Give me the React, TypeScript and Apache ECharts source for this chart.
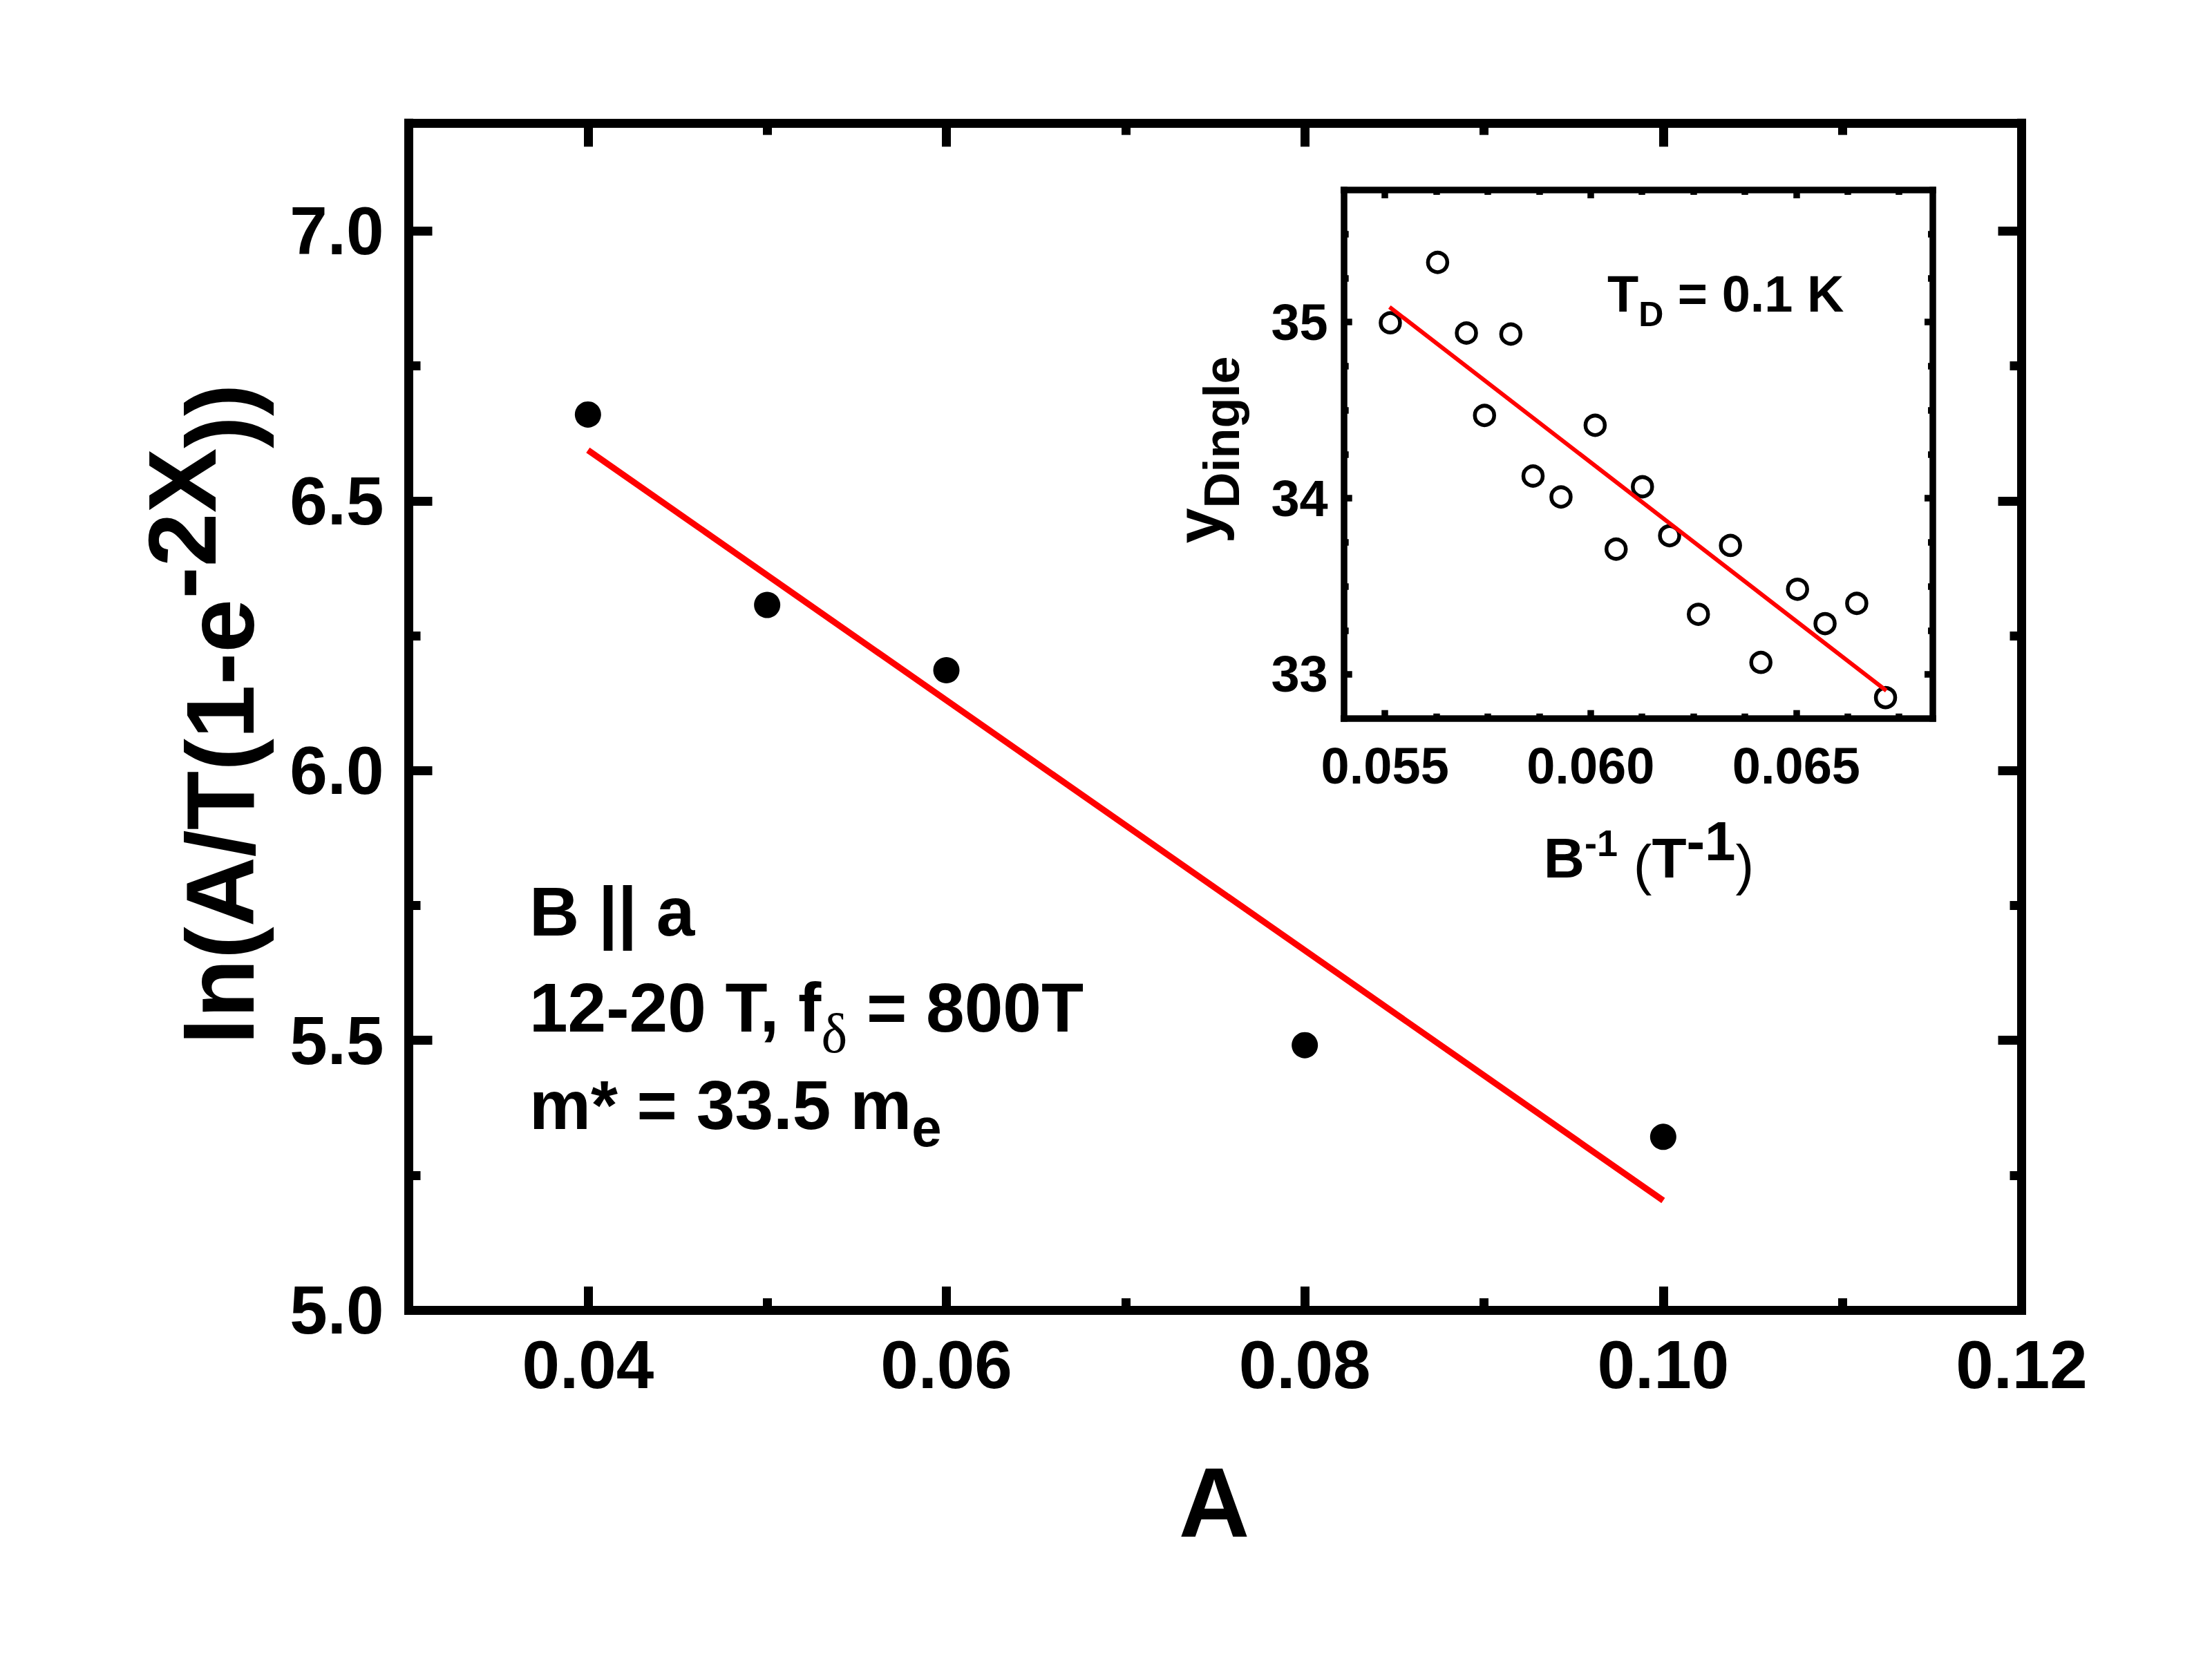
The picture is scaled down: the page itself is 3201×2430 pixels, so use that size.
import React, { useEffect, useRef } from 'react';
import * as echarts from 'echarts';

// ---------- data ----------
const mainX = [0.04, 0.05, 0.06, 0.08, 0.10];
const mainY = [6.660, 6.307, 6.186, 5.491, 5.321];
const mainFitX = [0.04, 0.10];
const mainFitY = [6.594, 5.203];

const insetX = [0.05513, 0.05628, 0.05698, 0.05806, 0.05742, 0.06011, 0.05860, 0.05928, 0.06126,
  0.06062, 0.06192, 0.06340, 0.06262, 0.06503, 0.06414, 0.06570, 0.06647, 0.06717];
const insetY = [34.996, 35.339, 34.938, 34.932, 34.470, 34.414, 34.126, 34.007, 34.065,
  33.711, 33.787, 33.732, 33.341, 33.483, 33.068, 33.288, 33.403, 32.868];
const insetFitX = [0.05511, 0.06719];
const insetFitY = [35.086, 32.907];

const mainXTicks = [0.04, 0.06, 0.08, 0.10, 0.12];
const mainXMinor = [0.05, 0.07, 0.09, 0.11];
const mainYTicks = [5.0, 5.5, 6.0, 6.5, 7.0];
const mainYMinor = [5.25, 5.75, 6.25, 6.75];
const insetXTicks = [0.055, 0.060, 0.065];
const insetXMinor = [0.05625, 0.0575, 0.05875, 0.06125, 0.0625, 0.06375, 0.06625, 0.0675];
const insetYTicks = [33, 34, 35];
const insetYMinor = [33.25, 33.5, 33.75, 34.25, 34.5, 34.75, 35.25, 35.5];

const mainXRange = [0.03, 0.12];
const mainYRange = [5.0, 7.2];
const insetXRange = [0.054, 0.06832];
const insetYRange = [32.75, 35.75];

const FONT = 'Liberation Sans';

type LabelCfg = { fmt: (v: number) => string; size: number; margin: number };

function mkAxis(grid: number, pos: string, range: number[], ticks: number[], len: number,
  width: number, line: boolean, label?: LabelCfg) {
  return {
    type: 'value',
    gridIndex: grid,
    position: pos,
    min: range[0],
    max: range[1],
    axisLine: { show: line, onZero: false, lineStyle: { color: '#000', width, cap: 'square' } },
    axisTick: { show: true, inside: true, length: len, customValues: ticks, lineStyle: { color: '#000', width } },
    axisLabel: label
      ? {
          show: true,
          customValues: ticks,
          formatter: (v: number) => label.fmt(v),
          fontSize: label.size,
          fontWeight: 'bold',
          fontFamily: FONT,
          color: '#000',
          margin: label.margin,
        }
      : { show: false },
    splitLine: { show: false },
    minorTick: { show: false },
    minorSplitLine: { show: false },
    axisPointer: { show: false },
  };
}

const zip = (a: number[], b: number[]) => a.map((v, i) => [v, b[i]]);

function buildOption() {
  const MW = 13; // main frame width
  const IW = 9.5; // inset frame width
  const xAxes = [
    mkAxis(0, 'bottom', mainXRange, mainXTicks, 34, MW, true, { fmt: (v) => v.toFixed(2), size: 98, margin: 30 }),
    mkAxis(0, 'bottom', mainXRange, mainXMinor, 17, MW, false),
    mkAxis(0, 'top', mainXRange, mainXTicks, 34, MW, true),
    mkAxis(0, 'top', mainXRange, mainXMinor, 17, MW, false),
    mkAxis(1, 'bottom', insetXRange, insetXTicks, 12, IW, true, { fmt: (v) => v.toFixed(3), size: 74, margin: 32 }),
    mkAxis(1, 'bottom', insetXRange, insetXMinor, 7, IW, false),
    mkAxis(1, 'top', insetXRange, insetXTicks, 12, IW, true),
    mkAxis(1, 'top', insetXRange, insetXMinor, 7, IW, false),
  ];
  const yAxes = [
    mkAxis(0, 'left', mainYRange, mainYTicks, 34, MW, true, { fmt: (v) => v.toFixed(1), size: 98, margin: 36 }),
    mkAxis(0, 'left', mainYRange, mainYMinor, 17, MW, false),
    mkAxis(0, 'right', mainYRange, mainYTicks, 34, MW, true),
    mkAxis(0, 'right', mainYRange, mainYMinor, 17, MW, false),
    mkAxis(1, 'left', insetYRange, insetYTicks, 12, IW, true, { fmt: (v) => String(Math.round(v)), size: 74, margin: 23 }),
    mkAxis(1, 'left', insetYRange, insetYMinor, 7, IW, false),
    mkAxis(1, 'right', insetYRange, insetYTicks, 12, IW, true),
    mkAxis(1, 'right', insetYRange, insetYMinor, 7, IW, false),
  ];

  const bold = (size: number, extra: any = {}) => ({
    fontSize: size, fontWeight: 'bold', fontFamily: FONT, fill: '#000', ...extra,
  });

  const graphic = [
    // main y title
    {
      type: 'text', x: 318, y: 1034, rotation: Math.PI / 2, z: 10,
      style: {
        text: '{b|ln(A/T(1-e}{s|-2X}{b|))}',
        align: 'center', verticalAlign: 'middle',
        rich: {
          b: bold(140, { height: 140 }),
          s: bold(140, { height: 30, verticalAlign: 'top' }),
        },
      },
    },
    // main x title
    {
      type: 'text', x: 1757, y: 2174, z: 10,
      style: { text: 'A', align: 'center', verticalAlign: 'middle', ...bold(142) },
    },
    // annotations
    {
      type: 'text', x: 766, y: 1319, z: 10,
      style: { text: 'B || a', align: 'left', verticalAlign: 'middle', ...bold(100) },
    },
    {
      type: 'text', x: 766, y: 1458, z: 10,
      style: {
        text: '{b|12-20 T, f}{d|δ}{b| = 800T}',
        align: 'left', verticalAlign: 'middle',
        rich: {
          b: bold(100, { height: 100 }),
          d: { fontSize: 80, fontFamily: 'Liberation Serif', fontWeight: 'normal', fill: '#000', height: 24, verticalAlign: 'bottom' },
        },
      },
    },
    {
      type: 'text', x: 766, y: 1599, z: 10,
      style: {
        text: '{b|m* = 33.5 m}{e|e}',
        align: 'left', verticalAlign: 'middle',
        rich: {
          b: bold(100, { height: 100 }),
          e: bold(78, { height: 34, verticalAlign: 'bottom' }),
        },
      },
    },
    // inset annotation
    {
      type: 'text', x: 2326, y: 425, z: 10,
      style: {
        text: '{b|T}{s|D}{b| = 0.1 K}',
        align: 'left', verticalAlign: 'middle',
        rich: {
          b: bold(74, { height: 74 }),
          s: bold(50, { height: 15, verticalAlign: 'bottom' }),
        },
      },
    },
    // inset y title
    {
      type: 'text', x: 1735, y: 651, rotation: Math.PI / 2, z: 10,
      style: {
        text: '{b|y}{s|Dingle}',
        align: 'center', verticalAlign: 'middle',
        rich: {
          b: bold(92, { height: 92 }),
          s: bold(72, { height: 26, verticalAlign: 'bottom' }),
        },
      },
    },
    // inset x title
    {
      type: 'text', x: 2386, y: 1241, z: 10,
      style: {
        text: '{b|B}{u|-1}{b| }{p|(}{b|T}{v|-1}{p|)}',
        align: 'center', verticalAlign: 'middle',
        rich: {
          b: bold(82, { height: 82 }),
          u: bold(54, { height: 40, verticalAlign: 'top' }),
          v: bold(80, { height: 34, verticalAlign: 'top' }),
          p: { fontSize: 80, fontFamily: FONT, fontWeight: 'normal', fill: '#000', height: 62, verticalAlign: 'bottom' },
        },
      },
    },
  ];

  return {
    animation: false,
    backgroundColor: '#ffffff',
    grid: [
      { left: 591.5, top: 178.3, width: 2334, height: 1717.7, containLabel: false, outerBoundsMode: 'none' },
      { left: 1944.7, top: 275, width: 852.3, height: 764.7, containLabel: false, outerBoundsMode: 'none' },
    ],
    xAxis: xAxes,
    yAxis: yAxes,
    graphic,
    series: [
      {
        type: 'scatter', xAxisIndex: 0, yAxisIndex: 0, data: zip(mainX, mainY),
        symbol: 'circle', symbolSize: 38, itemStyle: { color: '#000', opacity: 1 }, z: 2,
      },
      {
        type: 'line', xAxisIndex: 0, yAxisIndex: 0, data: zip(mainFitX, mainFitY),
        symbol: 'none', showSymbol: false, lineStyle: { color: '#ff0000', width: 9, opacity: 1 }, z: 3,
      },
      {
        type: 'scatter', xAxisIndex: 4, yAxisIndex: 4, data: zip(insetX, insetY),
        symbol: 'circle', symbolSize: 28,
        itemStyle: { color: '#ffffff', borderColor: '#000', borderWidth: 5.5, opacity: 1 }, z: 2,
      },
      {
        type: 'line', xAxisIndex: 4, yAxisIndex: 4, data: zip(insetFitX, insetFitY),
        symbol: 'none', showSymbol: false, lineStyle: { color: '#ff0000', width: 6, opacity: 1 }, z: 3,
      },
    ],
  };
}

export default function App() {
  const ref = useRef<HTMLDivElement>(null);
  useEffect(() => {
    if (!ref.current) return;
    const chart = echarts.init(ref.current, null, { renderer: 'svg' });
    chart.setOption(buildOption() as any);
    return () => chart.dispose();
  }, []);
  return (
    <div
      ref={ref}
      style={{ position: 'absolute', left: 0, top: 0, width: 3201, height: 2430, background: '#fff' }}
    />
  );
}
